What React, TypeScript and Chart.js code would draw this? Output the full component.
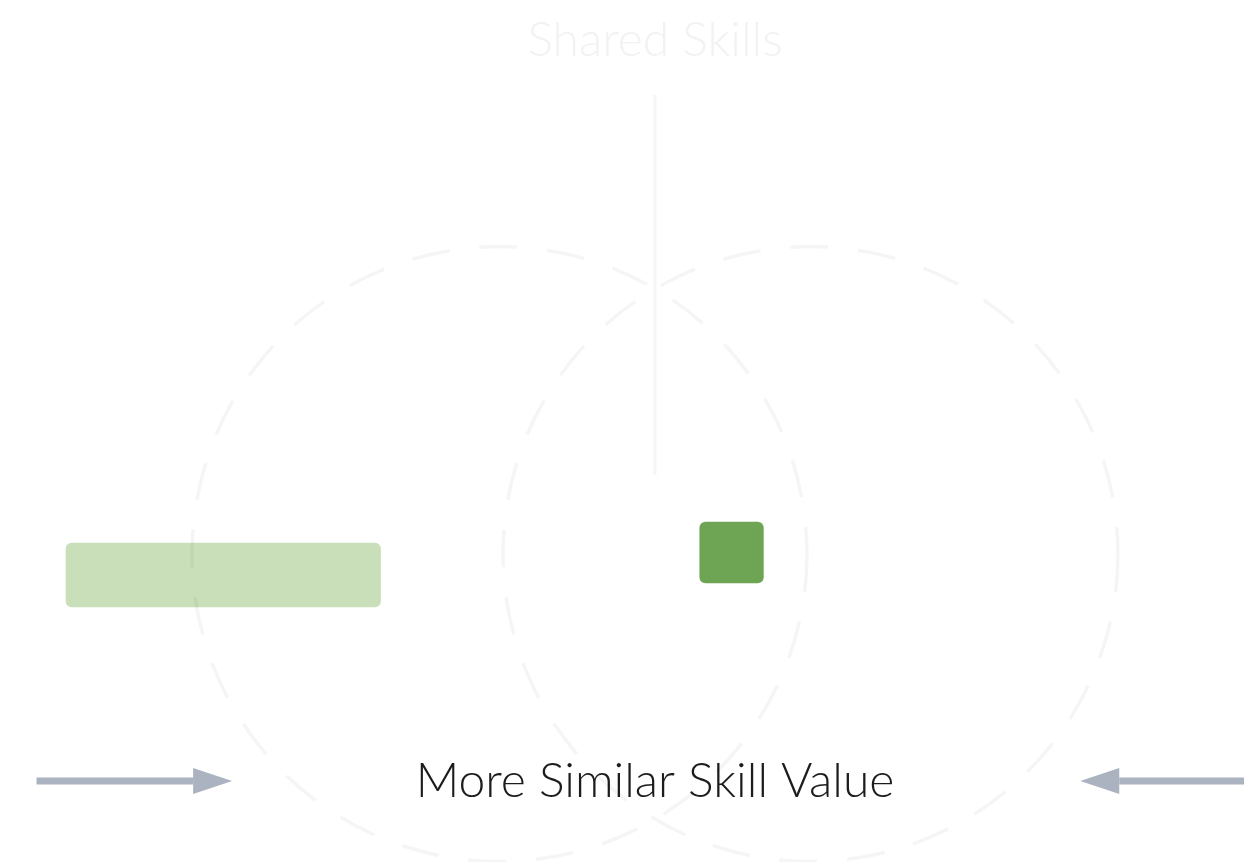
import React, { useEffect, useRef } from 'react';
import { Chart, registerables } from 'chart.js';

Chart.register(...registerables);

// ---- Data (in axis units; x: 0..100 skill value, y: 0..100 vertical level) ----
const titleText = 'Shared Skills';
const axisCaption = 'More Similar Skill Value';

const barLabels = ['Skill range', 'Shared skill'];
const barStarts = [0, 53.8];
const barEnds = [26.7, 59.2];
const barLevels = [26.38, 29.72];
const barThicknesses = [64, 61];
const barColors = ['#c8dfb9', '#6da554'];

const circleCentersX = [36.8, 63.2];
const circleCenterY = 29.49;
const circleRadius = 26.1;

const dividerX = 50;
const dividerYRange = [97.45, 41.19];

const arrowY = -4.12;
const leftArrow = [-2.5, 14.1];
const rightArrow = [102.5, 86.1];

const FONT = 'Lato';

const decorPlugin = {
  id: 'decor',
  afterDatasetsDraw(chart: any) {
    const { ctx, scales } = chart;
    const x = scales.x;
    const y = scales.y;
    ctx.save();
    // dashed circles
    ctx.strokeStyle = 'rgba(0,0,0,0.04)';
    ctx.lineWidth = 3.5;
    ctx.setLineDash([38, 30]);
    const r = x.getPixelForValue(circleRadius) - x.getPixelForValue(0);
    circleCentersX.forEach((cx) => {
      ctx.beginPath();
      ctx.arc(x.getPixelForValue(cx), y.getPixelForValue(circleCenterY), r, 0, Math.PI * 2);
      ctx.stroke();
    });
    // vertical divider
    ctx.setLineDash([]);
    ctx.strokeStyle = 'rgba(0,0,0,0.04)';
    ctx.lineWidth = 3;
    ctx.beginPath();
    ctx.moveTo(x.getPixelForValue(dividerX), y.getPixelForValue(dividerYRange[0]));
    ctx.lineTo(x.getPixelForValue(dividerX), y.getPixelForValue(dividerYRange[1]));
    ctx.stroke();
    ctx.restore();
  },
  afterDraw(chart: any) {
    const { ctx, scales } = chart;
    const x = scales.x;
    const y = scales.y;
    const py = y.getPixelForValue(arrowY);
    const drawArrow = (from: number, to: number) => {
      const x0 = x.getPixelForValue(from);
      const x1 = x.getPixelForValue(to);
      const dir = x1 > x0 ? 1 : -1;
      const headLen = 39;
      const headHalf = 13;
      ctx.save();
      ctx.strokeStyle = '#abb3c0';
      ctx.fillStyle = '#abb3c0';
      ctx.lineWidth = 7;
      ctx.beginPath();
      ctx.moveTo(x0, py);
      ctx.lineTo(x1 - dir * headLen, py);
      ctx.stroke();
      ctx.beginPath();
      ctx.moveTo(x1, py);
      ctx.lineTo(x1 - dir * headLen, py - headHalf);
      ctx.lineTo(x1 - dir * headLen, py + headHalf);
      ctx.closePath();
      ctx.fill();
      ctx.restore();
    };
    drawArrow(leftArrow[0], leftArrow[1]);
    drawArrow(rightArrow[0], rightArrow[1]);
  },
};

export default function App() {
  const canvasRef = useRef<HTMLCanvasElement | null>(null);

  useEffect(() => {
    if (!canvasRef.current) return;
    const datasets = barLabels.map((label, i) => ({
      label,
      data: [{ x: [barStarts[i], barEnds[i]], y: barLevels[i] }],
      backgroundColor: barColors[i],
      borderWidth: 0,
      borderRadius: 6,
      borderSkipped: false,
      barThickness: barThicknesses[i],
      grouped: false,
      clip: false,
    }));
    const chart = new Chart(canvasRef.current, {
      type: 'bar',
      data: { datasets } as any,
      plugins: [decorPlugin],
      options: {
        animation: false,
        responsive: true,
        maintainAspectRatio: false,
        indexAxis: 'y',
        layout: { padding: { left: 66, right: 0, top: 0, bottom: 0 } },
        scales: {
          x: { type: 'linear', min: 0, max: 100, display: false },
          y: { type: 'linear', min: 0, max: 100, display: false, offset: false },
        },
        plugins: {
          legend: { display: false },
          tooltip: { enabled: false },
          title: {
            display: true,
            text: titleText,
            color: '#f2f2f2',
            font: { family: FONT, size: 48, weight: '300' as any },
            padding: { top: 12, bottom: 8.2 },
          },
          subtitle: {
            display: true,
            position: 'bottom',
            text: axisCaption,
            color: '#1c1c1c',
            font: { family: FONT, size: 48, weight: '300' as any },
            padding: { top: 0, bottom: 51.2 },
          },
        },
      } as any,
    });
    return () => chart.destroy();
  }, []);

  return (
    <div style={{ position: 'absolute', left: 0, top: 0, width: 1244, height: 862, background: '#ffffff' }}>
      <canvas ref={canvasRef} />
    </div>
  );
}
